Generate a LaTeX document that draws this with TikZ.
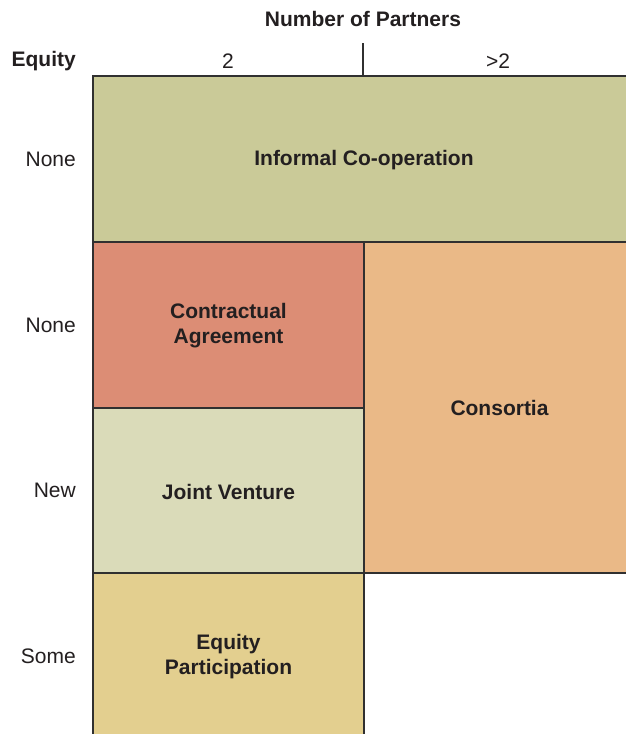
\documentclass[tikz,border=0pt]{standalone}
\usepackage{fontspec}
\setmainfont{Liberation Sans}
\usetikzlibrary{positioning}
\definecolor{informalfill}{HTML}{CACA98}
\definecolor{contractfill}{HTML}{DC8D75}
\definecolor{consortfill}{HTML}{EAB987}
\definecolor{jointfill}{HTML}{DADBB9}
\definecolor{equityfill}{HTML}{E3CF8F}
\definecolor{gridline}{HTML}{303030}
\definecolor{labeltext}{HTML}{231F20}
\newcommand{\labelsize}{\fontsize{21}{25}\selectfont}
\tikzstyle{cell}=[draw=gridline,line width=2pt,anchor=north west,inner sep=0pt,text=labeltext,font=\labelsize\bfseries,align=center]
\tikzstyle{rowlabel}=[anchor=east,inner sep=0pt,text=labeltext]
\tikzstyle{collabel}=[inner sep=0pt,text=labeltext]

\begin{document}
\begin{tikzpicture}[x=1pt,y=-1pt,font=\labelsize]
    \useasboundingbox (0,0) rectangle (625,734);
    % First we draw the cells of the grid
    \node[cell,fill=informalfill,minimum width=542pt,minimum height=168pt] (informal) at (92,75) {Informal Co-operation};
    \node[cell,fill=contractfill,minimum width=271pt,minimum height=168pt] (contract) at (92,241) {Contractual\\Agreement};
    \node[cell,fill=consortfill,minimum width=271pt,minimum height=331pt] (consortia) at (363,241) {Consortia};
    \node[cell,fill=jointfill,minimum width=271pt,minimum height=168pt] (joint) at (92,407) {Joint Venture};
    \node[cell,fill=equityfill,minimum width=271pt,minimum height=168pt] (equitypart) at (92,572) {Equity\\Participation};
    % Then the headings
    \node[collabel,font=\labelsize\bfseries] (partners) at (363,19) {Number of Partners};
    \node[rowlabel,font=\labelsize\bfseries] (equity) at (76,61) {Equity};
    \node[collabel] (two) at (228,61) {2};
    \node[collabel] (more) at (498,61) {>2};
    \coordinate (tick) at (363,43);
    \draw[draw=gridline,line width=1.5pt] (tick) -- (tick |- informal.north);
    % Row labels
    \foreach \ypos/\name/\txt in {159/rnone/None, 325/rnonetwo/None, 490/rnew/New, 656/rsome/Some}
        \node[rowlabel] (\name) at (76,\ypos) {\txt};
\end{tikzpicture}
\end{document}
